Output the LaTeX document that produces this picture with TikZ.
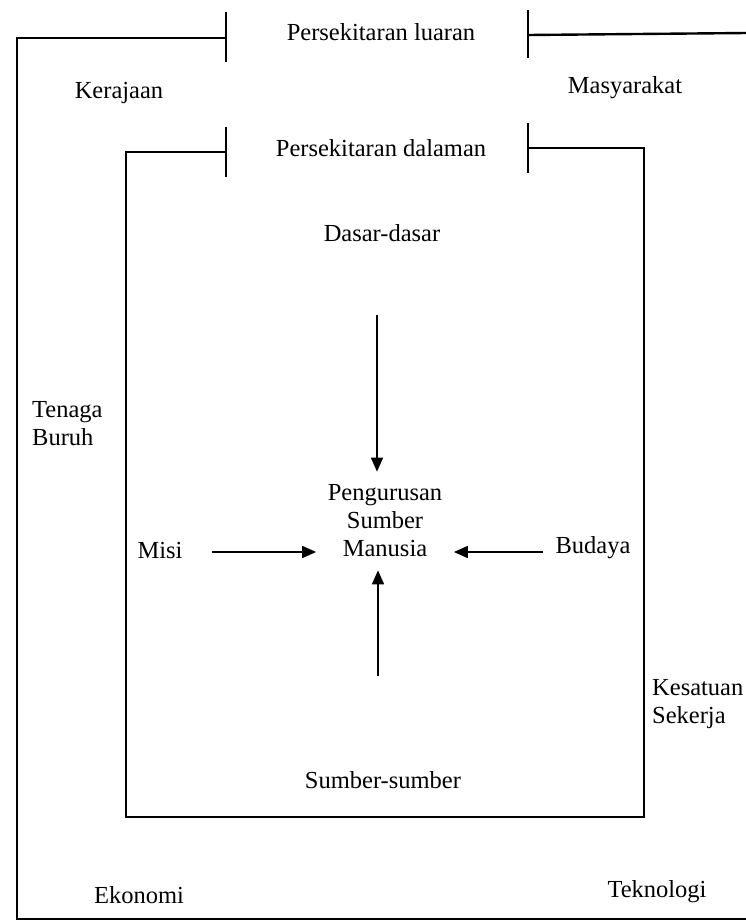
\documentclass[tikz,border=0pt]{standalone}
\usepackage{fontspec}
\setmainfont{Liberation Serif}
\usepackage{tikz}
\usetikzlibrary{arrows.meta}

\begin{document}
\begin{tikzpicture}[x=1pt,y=-1pt,
	label/.style={font=\fontsize{24.5}{28}\selectfont,inner sep=2pt},
	frame/.style={line width=2.4pt},
	bar/.style={line width=1.8pt},
	arr/.style={line width=1.6pt,-{Triangle[length=14pt,width=12pt]}}]

\useasboundingbox (0,0) rectangle (746,922);

\newcommand{\drawBar}[3]%
{   \draw[bar] (#1,#2) -- (#1,#3);
}

% outer environment
\draw[frame] (226,38) -- (17,38) -- (17,919) -- (746,919);
\draw[frame] (528,35) -- (746,33);
\drawBar{226}{12}{62}
\drawBar{528}{10}{58}

% inner environment
\draw[frame] (226,152) -- (126,152) -- (126,817) -- (644,817) -- (644,148) -- (528,148);
\drawBar{226}{127}{177}
\drawBar{528}{123}{173}

\node[label] (luaran) at (381,32) {Persekitaran luaran};
\node[label] (kerajaan) at (119,93) {Kerajaan};
\node[label] (masyarakat) at (625,88) {Masyarakat};
\node[label] (dalaman) at (381,148) {Persekitaran dalaman};
\node[label] (dasar) at (382,233) {Dasar-dasar};
\node[label,align=left,anchor=west] (tenaga) at (30,424) {Tenaga\\Buruh};
\node[label,align=center,inner xsep=11.5pt,inner ysep=13pt] (psm) at (385,521) {Pengurusan\\Sumber\\Manusia};
\node[label] (misi) at (160,550) {Misi};
\node[label] (budaya) at (593,548) {Budaya};
\node[label,align=left,anchor=west] (kesatuan) at (650,704) {Kesatuan\\Sekerja};
\node[label] (sumber) at (383,780) {Sumber-sumber};
\node[label] (ekonomi) at (139,895) {Ekonomi};
\node[label] (teknologi) at (657,892) {Teknologi};

% free ends of the arrows
\coordinate (dasarEnd) at (377,315);
\coordinate (misiEnd) at (212,552);
\coordinate (budayaEnd) at (543,552);
\coordinate (sumberEnd) at (378,676);

% flows into the centre
\draw[arr] (dasarEnd) -- (dasarEnd |- psm.north);
\draw[arr] (misiEnd) -- (misiEnd -| psm.west);
\draw[arr] (budayaEnd) -- (budayaEnd -| psm.east);
\draw[arr] (sumberEnd) -- (sumberEnd |- psm.south);

\end{tikzpicture}
\end{document}
